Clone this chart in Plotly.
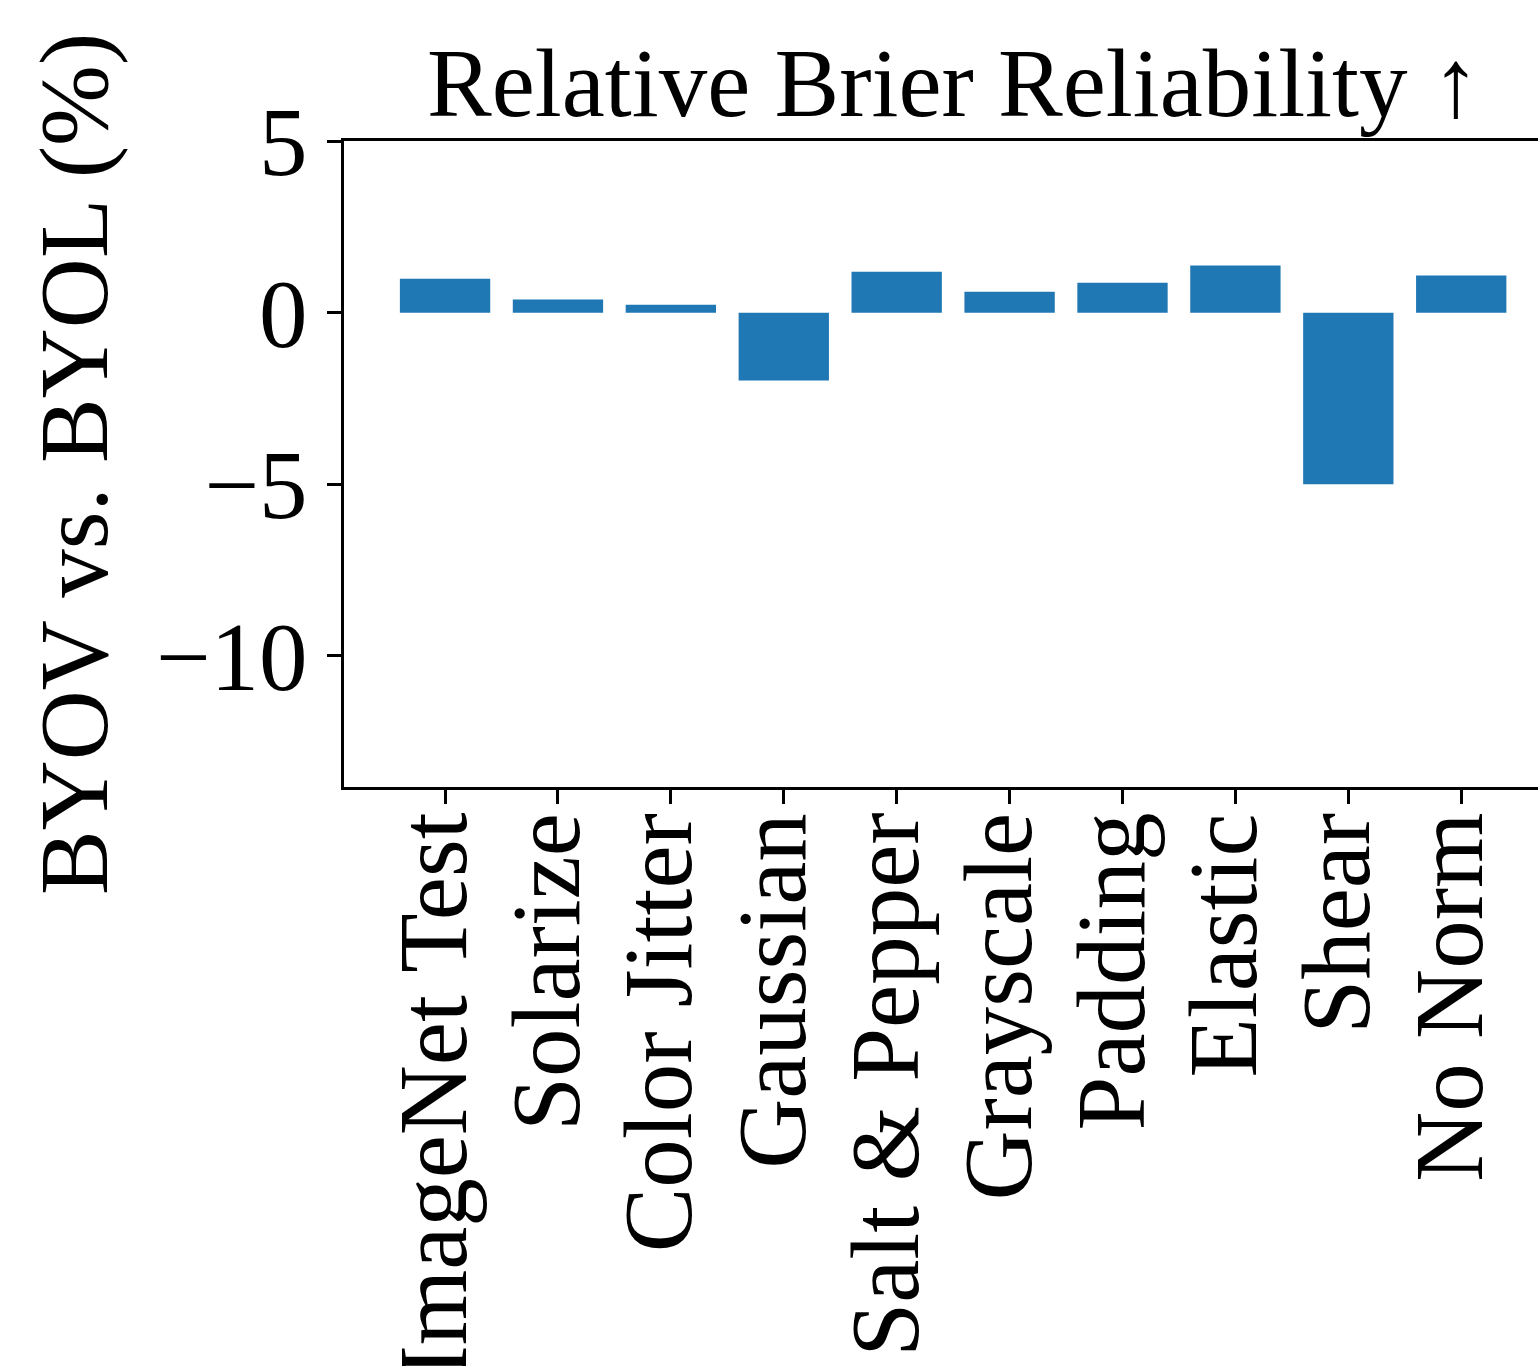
import plotly.graph_objects as go

categories = ["ImageNet Test", "Solarize", "Color Jitter", "Gaussian", "Salt & Pepper",
              "Grayscale", "Padding", "Elastic", "Shear", "No Norm"]
values = [0.99, 0.38, 0.23, -1.98, 1.19, 0.61, 0.87, 1.37, -5.0, 1.08]
ytick_vals = [5, 0, -5, -10]
ytick_text = ["5", "0", "\u22125", "\u221210"]
title_text = "Relative Brier Reliability \u2191"
ylabel_text = "BYOV vs. BYOL (%)"

W, H = 1538, 1366
L, T, B = 344, 141, 787
FONT = "Liberation Serif, Times New Roman, serif"
FS = 97

x_idx = list(range(len(categories)))

fig = go.Figure()
fig.add_trace(go.Bar(x=x_idx, y=values, width=0.8, marker=dict(color="#1f77b4", line=dict(width=0))))

annotations = [
    dict(text=title_text, xref="paper", yref="paper",
         x=(953 - L) / (W - L), y=1 + 2 / (B - T), xanchor="center", yanchor="bottom",
         showarrow=False, font=dict(family=FONT, size=FS)),
    dict(text=ylabel_text, xref="paper", yref="paper", textangle=-90,
         x=(74 - L) / (W - L), y=0.5, xanchor="center", yanchor="middle",
         showarrow=False, font=dict(family=FONT, size=FS)),
]
for i, cat in zip(x_idx, categories):
    annotations.append(dict(text=cat, xref="x", yref="paper", x=i, y=-24 / (B - T),
                            textangle=-90, xanchor="center", yanchor="top", xshift=-12,
                            showarrow=False, font=dict(family=FONT, size=FS)))

fig.update_layout(
    width=W, height=H,
    margin=dict(l=L, r=0, t=T, b=H - B, pad=0),
    paper_bgcolor="white", plot_bgcolor="white",
    showlegend=False,
    font=dict(family=FONT, size=FS, color="black"),
    xaxis=dict(
        range=[-0.895, 9.68], tickmode="array", tickvals=x_idx, showticklabels=False,
        ticks="outside", ticklen=14, tickwidth=3, tickcolor="black",
        showline=True, linewidth=3, linecolor="black", mirror=True,
        showgrid=False, zeroline=False, automargin=False,
    ),
    yaxis=dict(
        range=[-13.82, 5], tickmode="array", tickvals=ytick_vals, ticktext=ytick_text,
        ticks="outside", ticklen=14, tickwidth=3, tickcolor="black",
        showline=True, linewidth=3, linecolor="black",
        showgrid=False, zeroline=False, automargin=False,
        tickfont=dict(family=FONT, size=FS),
    ),
    annotations=annotations,
)

fig.write_html("out.html")
